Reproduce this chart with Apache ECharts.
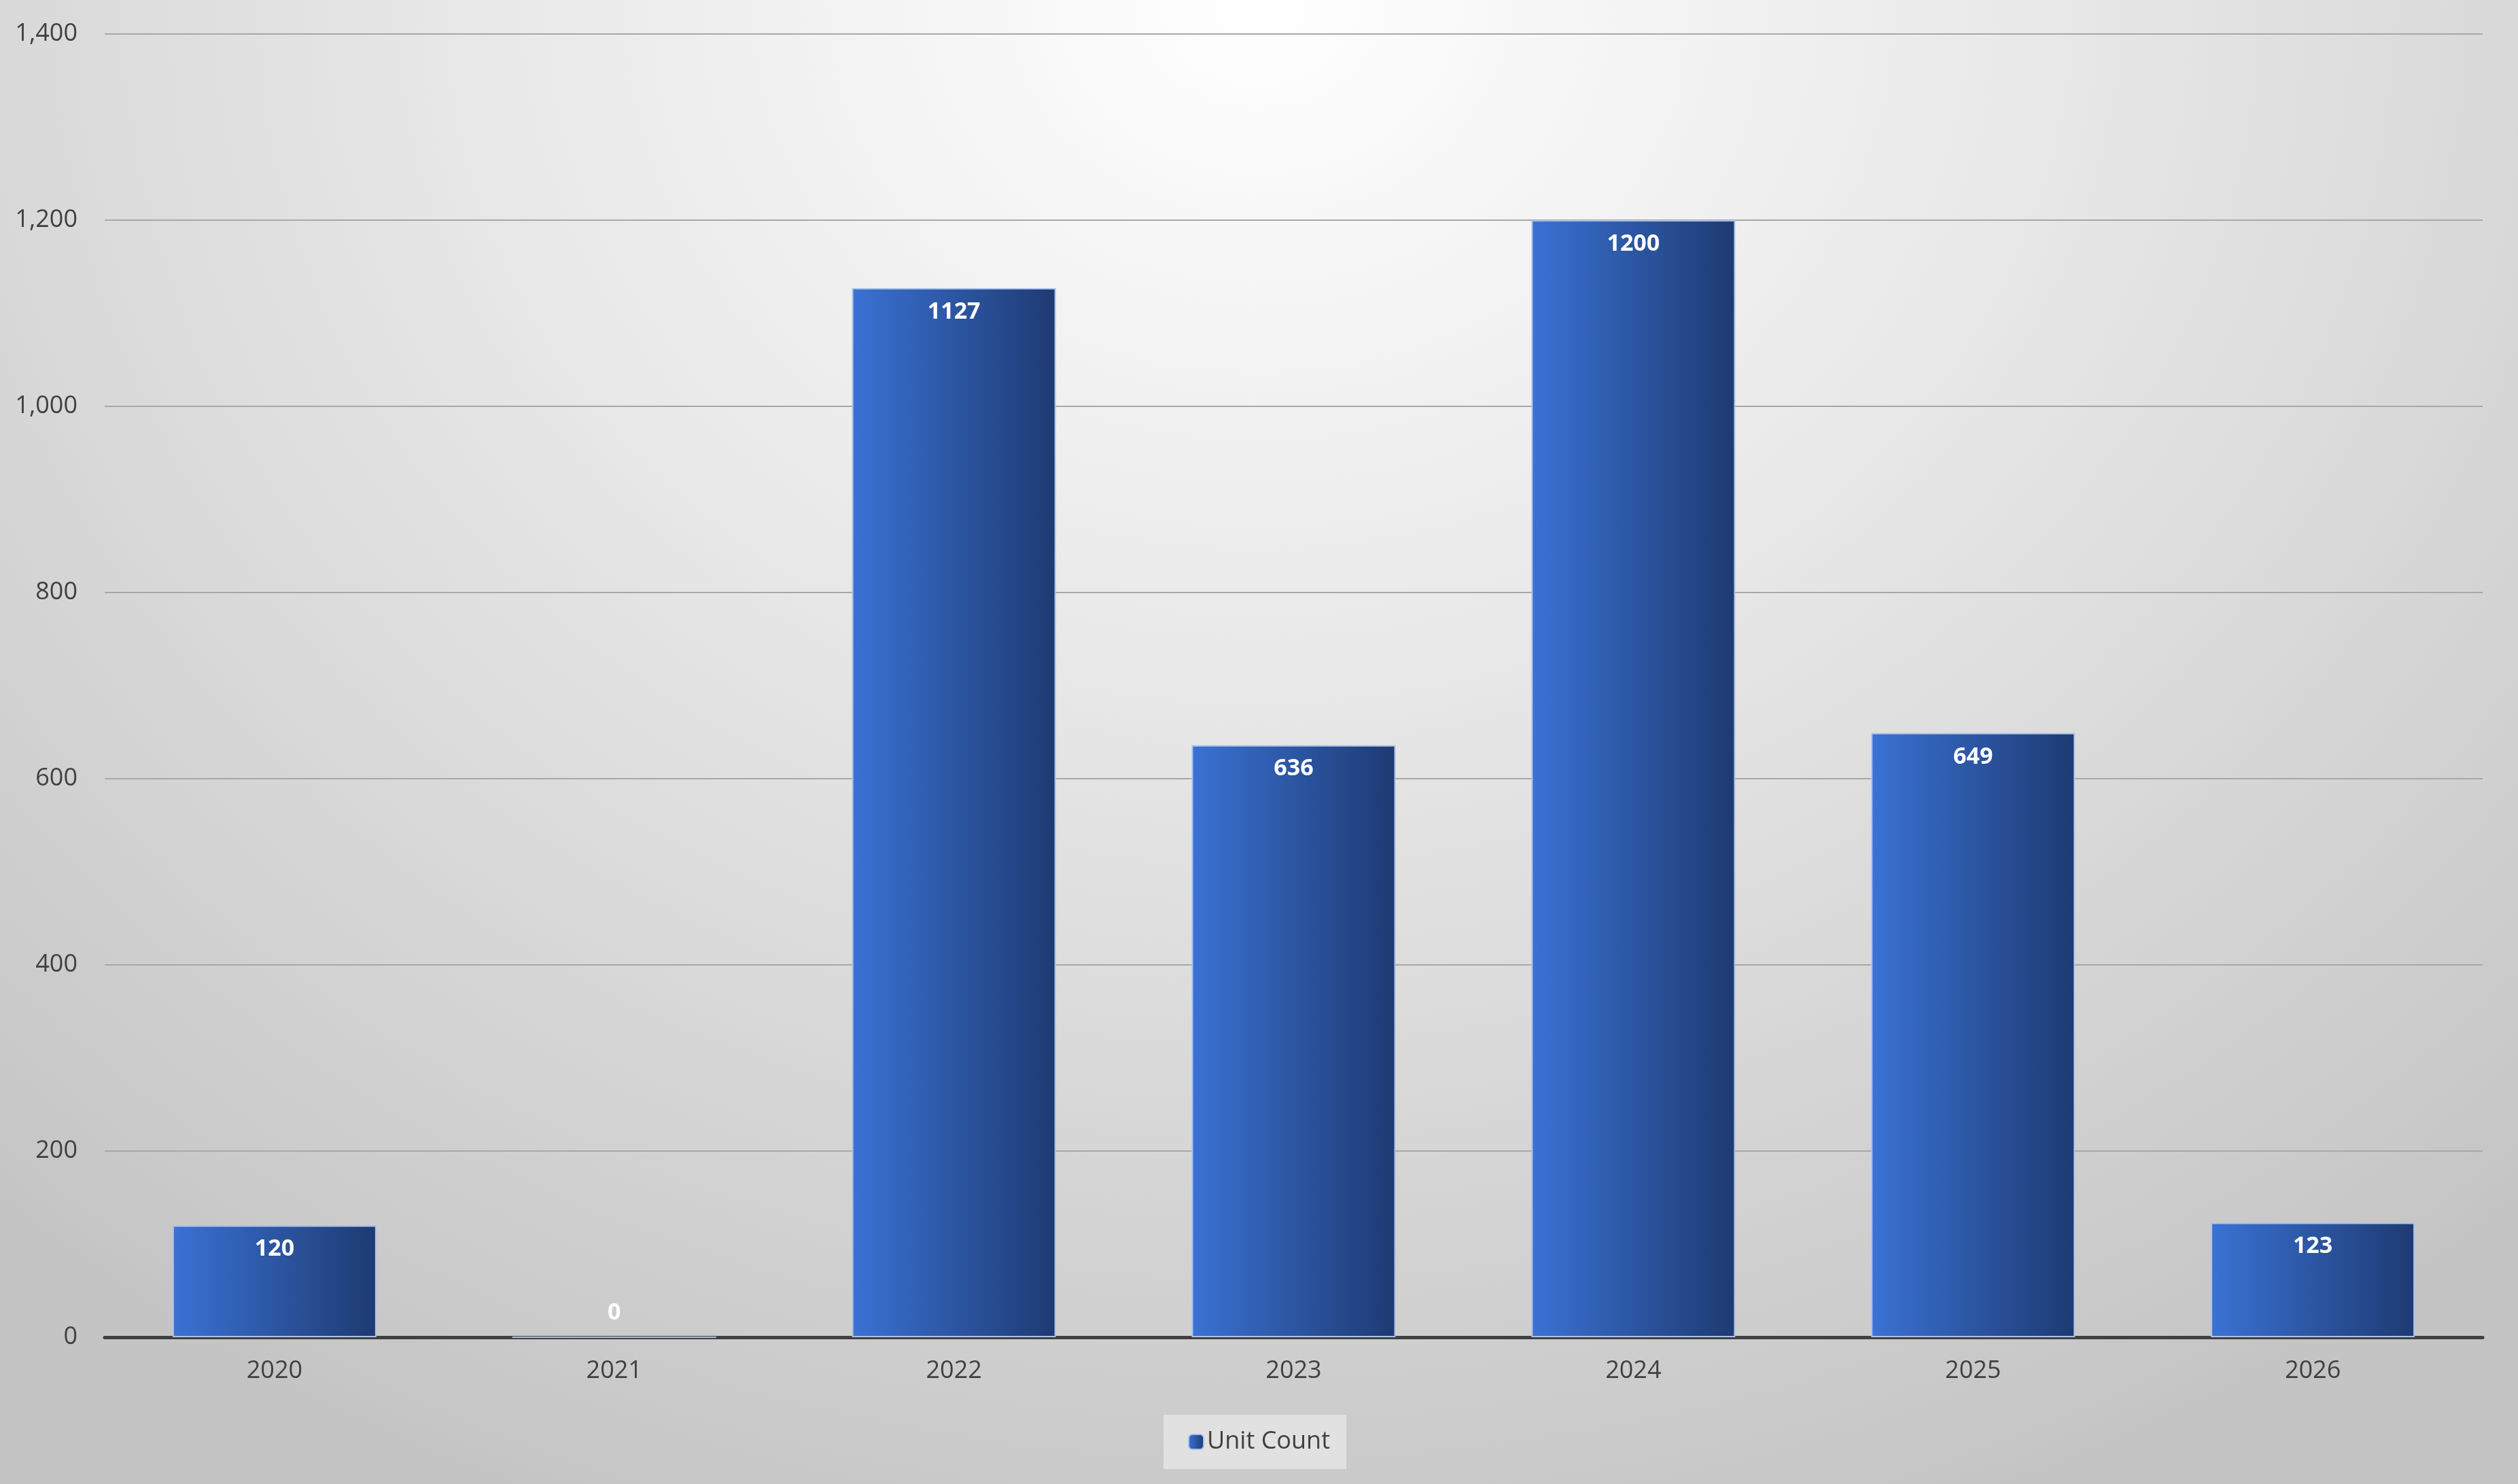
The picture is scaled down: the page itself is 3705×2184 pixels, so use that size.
<!DOCTYPE html>
<html><head><meta charset="utf-8">
<script src="https://cdn.jsdelivr.net/npm/echarts@6/dist/echarts.min.js"></script>
<style>html,body{margin:0;padding:0}#c{width:3705px;height:2184px;background:radial-gradient(ellipse 75% 110% at 50% 0%, #ffffff 0%, #e6e6e6 45%, #c4c4c4 100%);}</style>
</head><body><div id="c"></div>
<script>
const categories = ['2020','2021','2022','2023','2024','2025','2026'];
const unitCount = [120, 0, 1127, 636, 1200, 649, 123];
const yTicks = [0, 200, 400, 600, 800, 1000, 1200, 1400];
const font = '"Open Sans", "Noto Sans", sans-serif';
const grad = new echarts.graphic.LinearGradient(0,0,1,0,[{offset:0,color:'#3a72d4'},{offset:1,color:'#1e3a72'}]);
const chart = echarts.init(document.getElementById('c'));
chart.setOption({
  animation:false,
  textStyle:{fontFamily:font},
  grid:{left:154,right:52,top:50,bottom:216},
  legend:{bottom:22,left:'center',backgroundColor:'#e1e1e1',padding:[22,24,22,36],itemWidth:22,itemHeight:22,itemGap:12,
    textStyle:{fontSize:36,color:'#404040',fontFamily:font},data:['Unit Count']},
  xAxis:{type:'category',data:categories,axisTick:{show:false},
    axisLine:{lineStyle:{color:'#404040',width:5}},
    axisLabel:{fontSize:36,color:'#404040',margin:32}},
  yAxis:{type:'value',min:yTicks[0],max:yTicks[yTicks.length-1],interval:200,
    axisLabel:{fontSize:36,color:'#404040',margin:40},
    splitLine:{lineStyle:{color:'#a8a8a8',width:2}},axisLine:{show:false}},
  series:[{name:'Unit Count',type:'bar',barWidth:'60%',
    data:unitCount.map(v=>({value:v,label:{position:v===0?'top':'insideTop'}})),
    itemStyle:{color:grad,borderColor:'#a9c1ea',borderWidth:2},
    label:{show:true,position:'insideTop',distance:18,color:'#ffffff',fontWeight:'bold',fontSize:34,fontFamily:font}}]
});
</script></body></html>
